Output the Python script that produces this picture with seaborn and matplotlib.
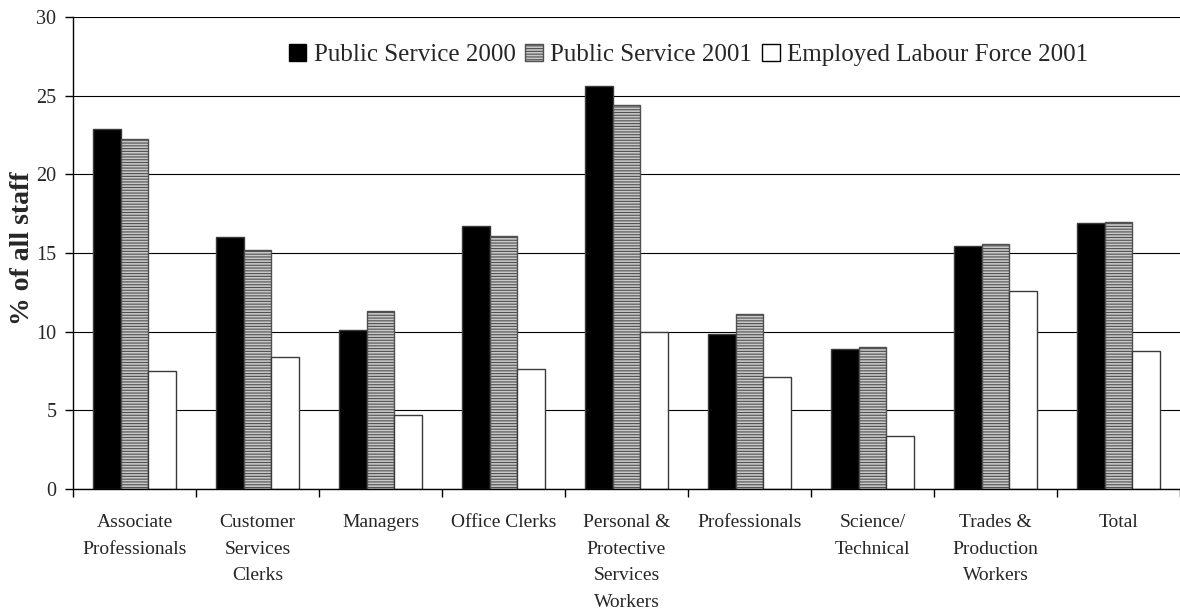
import matplotlib
matplotlib.use("Agg")
import matplotlib.pyplot as plt
import seaborn as sns
import pandas as pd
from matplotlib.patches import Patch

categories = ["Associate\nProfessionals", "Customer\nServices\nClerks", "Managers",
              "Office Clerks", "Personal &\nProtective\nServices\nWorkers", "Professionals",
              "Science/\nTechnical", "Trades &\nProduction\nWorkers", "Total"]
series = ["Public Service 2000", "Public Service 2001", "Employed Labour Force 2001"]
ps2000 = [22.9, 16.0, 10.1, 16.7, 25.6, 9.85, 8.9, 15.45, 16.9]
ps2001 = [22.25, 15.2, 11.3, 16.1, 24.4, 11.1, 9.0, 15.6, 17.0]
elf2001 = [7.5, 8.4, 4.7, 7.6, 10.0, 7.1, 3.4, 12.6, 8.8]
yticks = [0, 5, 10, 15, 20, 25, 30]

sns.set_theme(style="white")
plt.rcParams['font.family'] = ['Liberation Serif', 'DejaVu Serif']
plt.rcParams['hatch.linewidth'] = 0.8

rows = []
for s, vals in zip(series, [ps2000, ps2001, elf2001]):
    for c, v in zip(categories, vals):
        rows.append({"cat": c, "series": s, "value": v})
df = pd.DataFrame(rows)

fig = plt.figure(figsize=(11.8, 6.15), dpi=100)
ax = fig.add_axes([73/1180, 1-489/615, 1-73/1180, (489-17)/615])

face = ["black", "#c8c8c8", "white"]
ax = sns.barplot(data=df, x="cat", y="value", hue="series", order=categories,
                 hue_order=series, palette=face, width=0.67, gap=0,
                 edgecolor="#3a3a3a", linewidth=1.0, saturation=1, ax=ax, legend=False)
for cont, fc in zip(ax.containers, face):
    for p in cont:
        p.set_facecolor(fc)
        p.set_edgecolor("#3a3a3a")
        if fc == "#c8c8c8":
            p.set_hatch("------")
            p.set_edgecolor("#505050")

ax.set_xlim(-0.5, len(categories) - 0.5)
ax.set_ylim(0, 30)
ax.set_yticks(yticks)
ax.set_yticklabels([str(t) for t in yticks], fontsize=14.5)
ax.yaxis.grid(True, color="black", linewidth=0.8)
ax.set_axisbelow(True)

ax.set_xticks(range(len(categories)))
ax.set_xticklabels(categories, fontsize=14, linespacing=1.75, va="top")
ax.set_xticks([i - 0.5 for i in range(len(categories) + 1)], minor=True)
ax.tick_params(axis="x", which="major", length=0, pad=18)
ax.tick_params(axis="x", which="minor", length=6, width=1, color="black", direction="out", bottom=True)
ax.tick_params(axis="y", which="major", length=6, width=1, color="black", direction="out", left=True, pad=6)

ax.set_xlabel("")
ax.set_ylabel("% of all staff", fontsize=20, fontweight="bold")
ax.yaxis.set_label_coords(-0.034, 0.51)

for side in ["top", "right"]:
    ax.spines[side].set_visible(False)
for side in ["left", "bottom"]:
    ax.spines[side].set_color("black")
    ax.spines[side].set_linewidth(1)

handles = [Patch(facecolor="black", edgecolor="black"),
           Patch(facecolor="#c8c8c8", edgecolor="#505050", hatch="------"),
           Patch(facecolor="white", edgecolor="black")]
ax.legend(handles, series, ncol=3, loc="center", bbox_to_anchor=(0.556, 0.919),
          frameon=False, fontsize=18, handlelength=0.7, handleheight=0.7,
          handletextpad=0.3, columnspacing=0.4, borderaxespad=0)

fig.savefig("out.png", dpi=100)
